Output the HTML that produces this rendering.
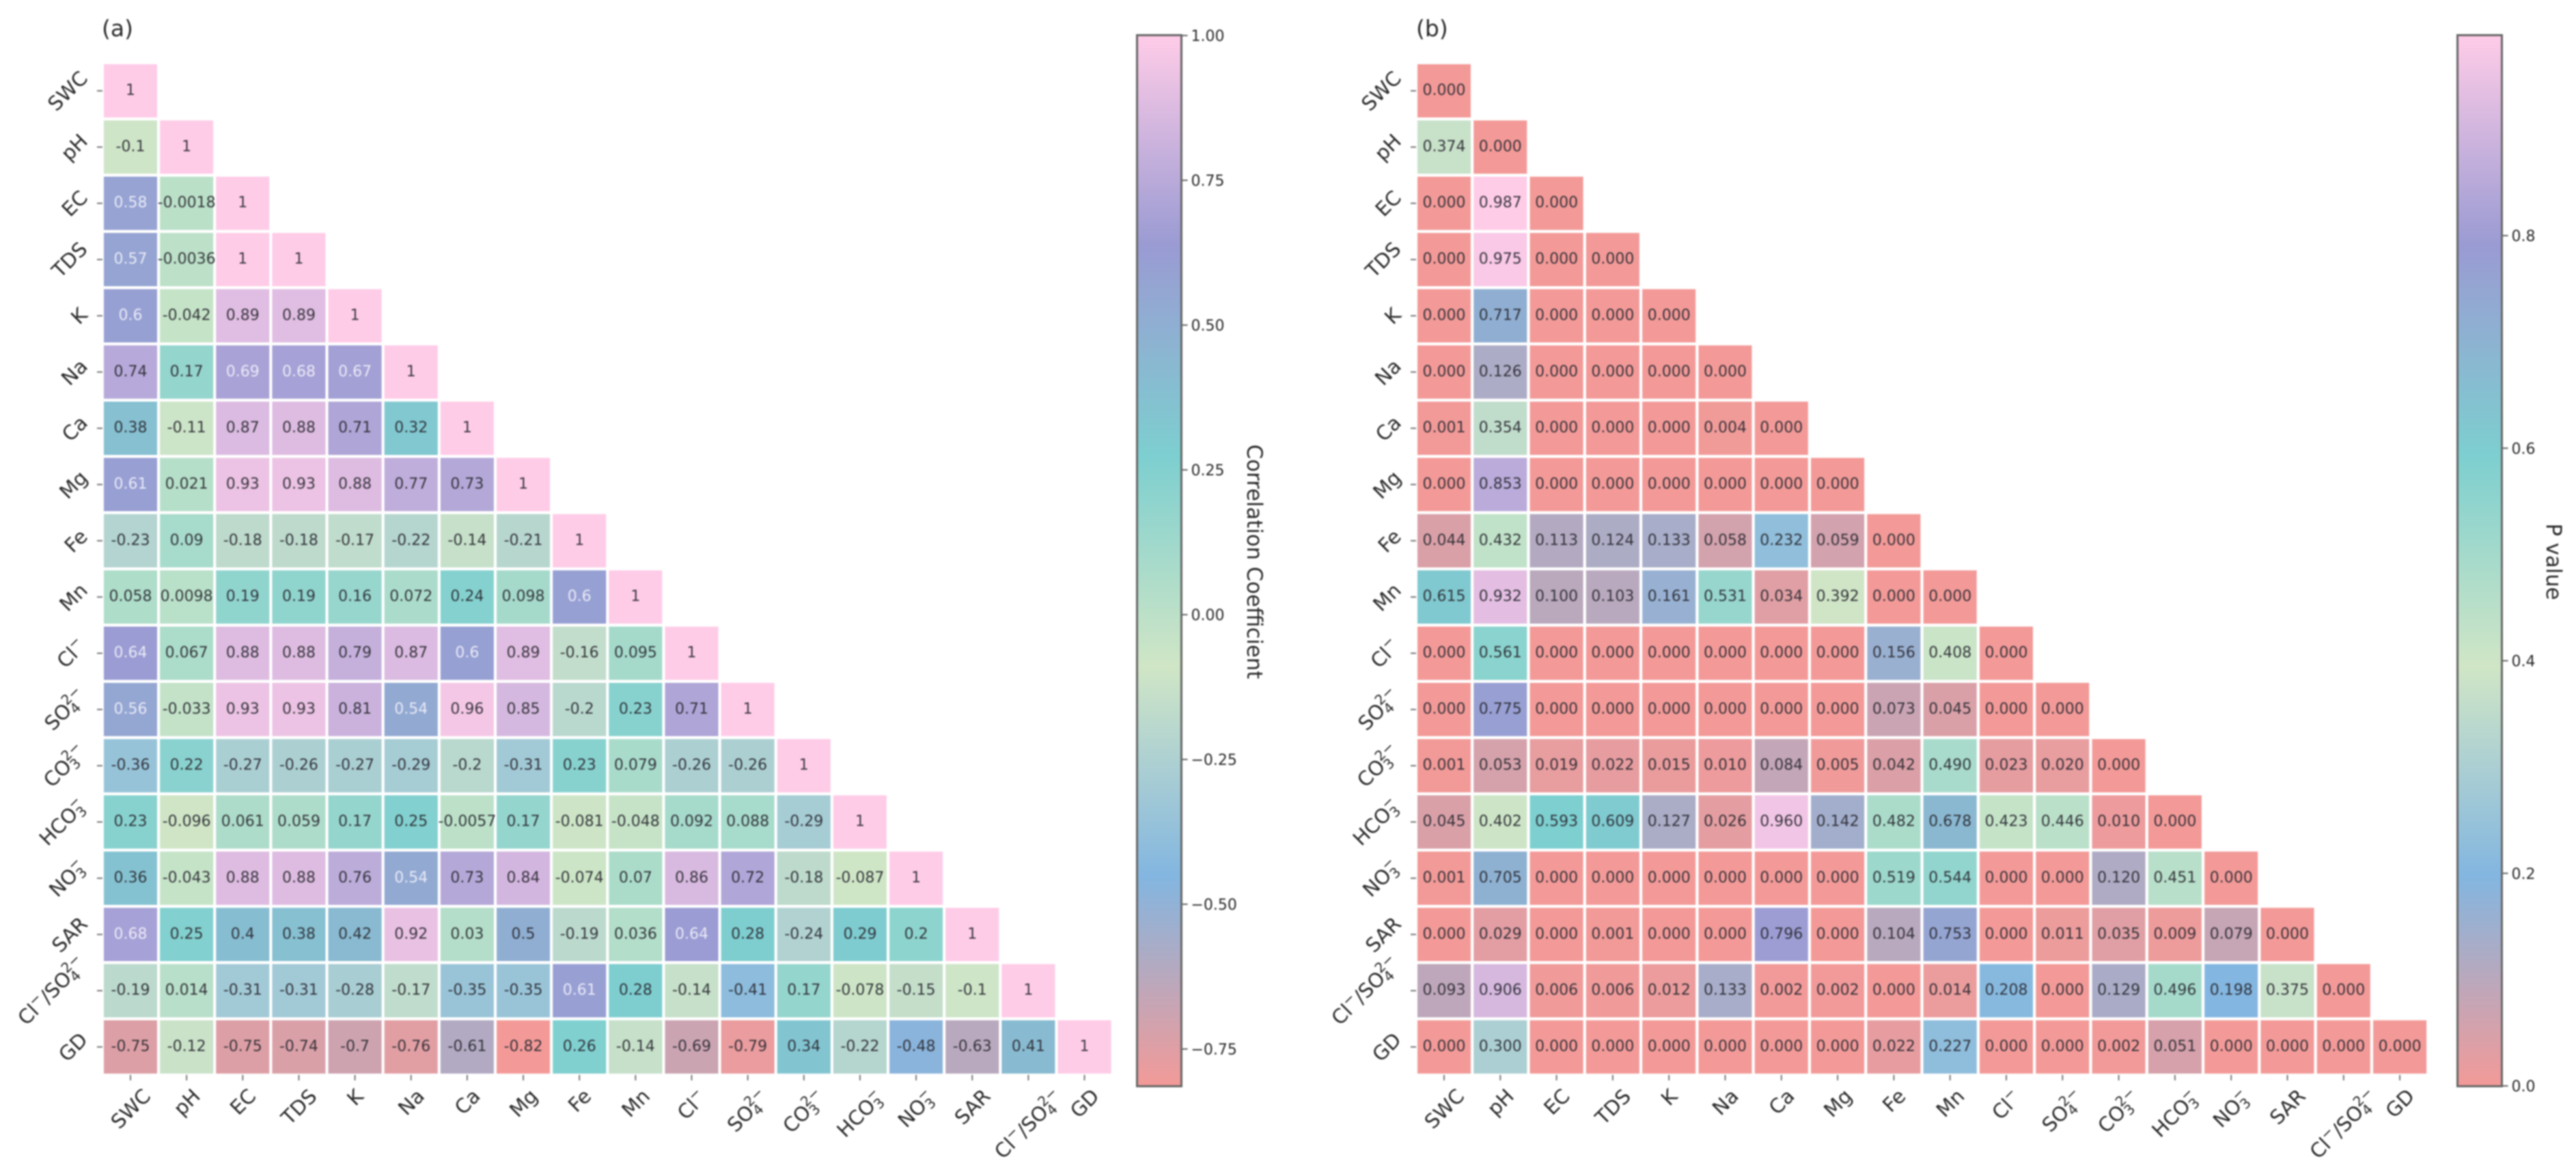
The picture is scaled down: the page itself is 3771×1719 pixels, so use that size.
<!DOCTYPE html>
<html lang="en">
<head>
<meta charset="utf-8">
<title>Correlation and P value heatmaps</title>
<style>
  html, body { margin: 0; padding: 0; background: #fff; }
  body { width: 3771px; height: 1719px; overflow: hidden; }
  svg { display: block; filter: blur(1.1px); }
  text { font-family: "DejaVu Sans", "Liberation Sans", sans-serif; }
</style>
</head>
<body>
<svg id="figure" xmlns="http://www.w3.org/2000/svg" width="3771" height="1719" viewBox="0 0 3771 1719">
  <defs id="gradients"></defs>
  <rect x="0" y="0" width="3771" height="1719" fill="#ffffff"></rect>
  <text x="149" y="53" font-size="33" fill="#2a2a2a">(a)</text>
  <text x="2073" y="53" font-size="33" fill="#2a2a2a">(b)</text>
  <g id="panel-a"></g>
  <g id="panel-b"></g>
</svg>
<script>
const categories = ['SWC','pH','EC','TDS','K','Na','Ca','Mg','Fe','Mn','Cl^-','SO_4^2-','CO_3^2-','HCO_3^-','NO_3^-','SAR','Cl^-/SO_4^2-','GD'];

const correlationValues = [
  [1],
  [-0.1,1],
  [0.58,-0.0018,1],
  [0.57,-0.0036,1,1],
  [0.6,-0.042,0.89,0.89,1],
  [0.74,0.17,0.69,0.68,0.67,1],
  [0.38,-0.11,0.87,0.88,0.71,0.32,1],
  [0.61,0.021,0.93,0.93,0.88,0.77,0.73,1],
  [-0.23,0.09,-0.18,-0.18,-0.17,-0.22,-0.14,-0.21,1],
  [0.058,0.0098,0.19,0.19,0.16,0.072,0.24,0.098,0.6,1],
  [0.64,0.067,0.88,0.88,0.79,0.87,0.6,0.89,-0.16,0.095,1],
  [0.56,-0.033,0.93,0.93,0.81,0.54,0.96,0.85,-0.2,0.23,0.71,1],
  [-0.36,0.22,-0.27,-0.26,-0.27,-0.29,-0.2,-0.31,0.23,0.079,-0.26,-0.26,1],
  [0.23,-0.096,0.061,0.059,0.17,0.25,-0.0057,0.17,-0.081,-0.048,0.092,0.088,-0.29,1],
  [0.36,-0.043,0.88,0.88,0.76,0.54,0.73,0.84,-0.074,0.07,0.86,0.72,-0.18,-0.087,1],
  [0.68,0.25,0.4,0.38,0.42,0.92,0.03,0.5,-0.19,0.036,0.64,0.28,-0.24,0.29,0.2,1],
  [-0.19,0.014,-0.31,-0.31,-0.28,-0.17,-0.35,-0.35,0.61,0.28,-0.14,-0.41,0.17,-0.078,-0.15,-0.1,1],
  [-0.75,-0.12,-0.75,-0.74,-0.7,-0.76,-0.61,-0.82,0.26,-0.14,-0.69,-0.79,0.34,-0.22,-0.48,-0.63,0.41,1]
];

const pValues = [
  [0],
  [0.374,0],
  [0,0.987,0],
  [0,0.975,0,0],
  [0,0.717,0,0,0],
  [0,0.126,0,0,0,0],
  [0.001,0.354,0,0,0,0.004,0],
  [0,0.853,0,0,0,0,0,0],
  [0.044,0.432,0.113,0.124,0.133,0.058,0.232,0.059,0],
  [0.615,0.932,0.1,0.103,0.161,0.531,0.034,0.392,0,0],
  [0,0.561,0,0,0,0,0,0,0.156,0.408,0],
  [0,0.775,0,0,0,0,0,0,0.073,0.045,0,0],
  [0.001,0.053,0.019,0.022,0.015,0.01,0.084,0.005,0.042,0.49,0.023,0.02,0],
  [0.045,0.402,0.593,0.609,0.127,0.026,0.96,0.142,0.482,0.678,0.423,0.446,0.01,0],
  [0.001,0.705,0,0,0,0,0,0,0.519,0.544,0,0,0.12,0.451,0],
  [0,0.029,0,0.001,0,0,0.796,0,0.104,0.753,0,0.011,0.035,0.009,0.079,0],
  [0.093,0.906,0.006,0.006,0.012,0.133,0.002,0.002,0,0.014,0.208,0,0.129,0.496,0.198,0.375,0],
  [0,0.3,0,0,0,0,0,0,0.022,0.227,0,0,0.002,0.051,0,0,0,0]
];

const correlationTicks = [1,0.75,0.5,0.25,0,-0.25,-0.5,-0.75];
const pValueTicks = [0.8,0.6,0.4,0.2,0];
const colormapColors = ['#f39a98','#83b6e0','#d0e6c6','#7dcfd0','#9a9bd3','#ffcce8'];
const correlationDomain = [-0.82,1];
const pValueDomain = [0,0.987];

const SVG_NS = 'http://www.w3.org/2000/svg';
const root = document.getElementById('figure');
const gradients = document.getElementById('gradients');

function make(tag, parent) {
  const el = document.createElementNS(SVG_NS, tag);
  parent.appendChild(el);
  return el;
}
function hexToRgb(h) {
  return [parseInt(h.slice(1,3),16), parseInt(h.slice(3,5),16), parseInt(h.slice(5,7),16)];
}
function colormap(t) {
  const c = Math.max(0, Math.min(1, t)) * (colormapColors.length - 1);
  const i = Math.min(colormapColors.length - 2, Math.floor(c));
  const f = c - i;
  const a = hexToRgb(colormapColors[i]);
  const b = hexToRgb(colormapColors[i + 1]);
  return 'rgb(' + a.map((v, k) => Math.round(v + (b[k] - v) * f)).join(',') + ')';
}
function slug(label) {
  return label.replace(/[^A-Za-z0-9]/g, '').toLowerCase();
}
function writeLabel(textEl, label, fontSize) {
  const math = /[_^]/.test(label);
  const tokens = label.match(/_\d|\^\d?-|[^_^]+/g);
  let offset = 0;
  let prevSub = false;
  tokens.forEach(token => {
    const span = make('tspan', textEl);
    
    
    let target = 0;
    let content = token;
    const small = token[0] === '_' || token[0] === '^';
    if (token[0] === '_') {
      target = 0.2 * fontSize;
      content = token.slice(1);
    } else if (token[0] === '^') {
      target = -0.42 * fontSize;
      content = token.slice(1).replace('-', '\u2212');
      if (prevSub) span.setAttribute('dx', (-0.636 * 0.7 * fontSize).toFixed(2));
    }
    if (small) span.setAttribute('font-size', (0.7 * fontSize).toFixed(2));
    if (target !== offset) span.setAttribute('dy', (target - offset).toFixed(2));
    offset = target;
    prevSub = token[0] === '_';
    span.textContent = content;
  });
  return math;
}

function drawPanel(panelId, cfg) {
  const g = document.getElementById(panelId);
  const xScale = i => cfg.x0 + i * cfg.stepX;
  const yScale = i => cfg.y0 + i * cfg.stepY;
  const cellW = cfg.cellW;
  const cellH = cfg.cellH;

  cfg.values.forEach((row, r) => {
    row.forEach((value, c) => {
      const rect = make('rect', g);
      
      
      rect.setAttribute('x', xScale(c));
      rect.setAttribute('y', yScale(r));
      rect.setAttribute('width', cellW);
      rect.setAttribute('height', cellH);
      rect.setAttribute('fill', colormap(cfg.norm(value)));

      const label = make('text', g);
      
      
      label.setAttribute('x', xScale(c) + cellW / 2);
      label.setAttribute('y', yScale(r) + cellH / 2 + 6);
      label.setAttribute('font-size', 22);
      label.setAttribute('text-anchor', 'middle');
      label.setAttribute('fill', cfg.lightText(value) ? '#f0f0fa' : '#2b2b33');
      label.setAttribute('fill-opacity', '0.92');
      label.textContent = cfg.format(value);
    });
  });

  categories.forEach((cat, i) => {
    const cx = xScale(i) + cellW / 2;
    const cy = yScale(i) + cellH / 2;

    const leftTick = make('line', g);
    
    
    leftTick.setAttribute('x1', cfg.x0 - 10);
    leftTick.setAttribute('x2', cfg.x0 - 2);
    leftTick.setAttribute('y1', cy);
    leftTick.setAttribute('y2', cy);
    leftTick.setAttribute('stroke', '#777777');
    leftTick.setAttribute('stroke-width', 2);

    const bottomY = cfg.y0 + 17 * cfg.stepY + cellH;
    const bottomTick = make('line', g);
    
    
    bottomTick.setAttribute('x1', cx);
    bottomTick.setAttribute('x2', cx);
    bottomTick.setAttribute('y1', bottomY + 2);
    bottomTick.setAttribute('y2', bottomY + 10);
    bottomTick.setAttribute('stroke', '#777777');
    bottomTick.setAttribute('stroke-width', 2);

    const fs = 29;

    const yLabel = make('text', g);
    
    
    yLabel.setAttribute('font-size', fs);
    yLabel.setAttribute('fill', '#2a2a2a');
    yLabel.setAttribute('text-anchor', 'middle');
    yLabel.setAttribute('y', (0.36 * fs).toFixed(2));
    const isMathY = writeLabel(yLabel, cat, fs);
    const wy = yLabel.getBBox().width;
    const inkY = isMathY ? 0.95 * fs : 0.73 * fs;
    const halfY = (wy + inkY) * Math.SQRT1_2 / 2;
    yLabel.setAttribute('transform', 'translate(' + (cfg.x0 - 22 - halfY).toFixed(2) + ',' + cy.toFixed(2) + ') rotate(-45)');

    const xLabel = make('text', g);
    
    
    xLabel.setAttribute('font-size', fs);
    xLabel.setAttribute('fill', '#2a2a2a');
    xLabel.setAttribute('text-anchor', 'middle');
    xLabel.setAttribute('y', (0.36 * fs).toFixed(2));
    const isMathX = writeLabel(xLabel, cat, fs);
    const wx = xLabel.getBBox().width;
    const inkX = isMathX ? 0.95 * fs : 0.73 * fs;
    const halfX = (wx + inkX) * Math.SQRT1_2 / 2;
    xLabel.setAttribute('transform', 'translate(' + cx.toFixed(2) + ',' + (bottomY + 20 + halfX).toFixed(2) + ') rotate(-45)');
  });

  const grad = make('linearGradient', gradients);
  grad.setAttribute('id', cfg.gradId);
  
  
  grad.setAttribute('x1', '0');
  grad.setAttribute('y1', '1');
  grad.setAttribute('x2', '0');
  grad.setAttribute('y2', '0');
  colormapColors.forEach((color, i) => {
    const stop = make('stop', grad);
    
    
    stop.setAttribute('offset', i / (colormapColors.length - 1));
    stop.setAttribute('stop-color', color);
  });

  const bar = make('rect', g);
  
  
  bar.setAttribute('x', cfg.barX);
  bar.setAttribute('y', 51.5);
  bar.setAttribute('width', cfg.barW);
  bar.setAttribute('height', 1539);
  bar.setAttribute('fill', 'url(#' + cfg.gradId + ')');
  bar.setAttribute('stroke', '#666666');
  bar.setAttribute('stroke-width', 3);

  cfg.ticks.forEach(t => {
    const y = cfg.tickY(t);
    const mark = make('line', g);
    
    
    mark.setAttribute('x1', cfg.barX + cfg.barW + 1);
    mark.setAttribute('x2', cfg.barX + cfg.barW + 9);
    mark.setAttribute('y1', y);
    mark.setAttribute('y2', y);
    mark.setAttribute('stroke', '#666666');
    mark.setAttribute('stroke-width', 2);

    const lab = make('text', g);
    
    
    lab.setAttribute('x', cfg.barX + cfg.barW + 14);
    lab.setAttribute('y', y + 8);
    lab.setAttribute('font-size', 22);
    lab.setAttribute('fill', '#2a2a2a');
    lab.textContent = cfg.tickFormat(t);
  });

  const title = make('text', g);
  
  
  title.setAttribute('font-size', 30.7);
  title.setAttribute('fill', '#2a2a2a');
  title.setAttribute('text-anchor', 'middle');
  title.setAttribute('transform', 'translate(' + cfg.titleX + ',822.5) rotate(90)');
  title.textContent = cfg.title;
}

drawPanel('panel-a', {
  x0: 152, y0: 94, stepX: 82.15, stepY: 82.35, cellW: 78, cellH: 78,
  values: correlationValues,
  norm: v => (v - correlationDomain[0]) / (correlationDomain[1] - correlationDomain[0]),
  format: v => String(v),
  lightText: v => v >= 0.54 && v <= 0.7,
  gradId: 'correlation-gradient',
  barX: 1664.5, barW: 65,
  ticks: correlationTicks,
  tickY: v => 52 + (1 - v) * 848,
  tickFormat: v => v.toFixed(2).replace('-', '\u2212'),
  titleX: 1826,
  title: 'Correlation Coefficient'
});

drawPanel('panel-b', {
  x0: 2075, y0: 94, stepX: 82.3, stepY: 82.35, cellW: 78, cellH: 78,
  values: pValues,
  norm: v => (v - pValueDomain[0]) / (pValueDomain[1] - pValueDomain[0]),
  format: v => v.toFixed(3),
  lightText: v => false,
  gradId: 'p-value-gradient',
  barX: 3597.5, barW: 65,
  ticks: pValueTicks,
  tickY: v => 1590 - v * 1556.25,
  tickFormat: v => v.toFixed(1),
  titleX: 3728,
  title: 'P value'
});
</script>
</body>
</html>
